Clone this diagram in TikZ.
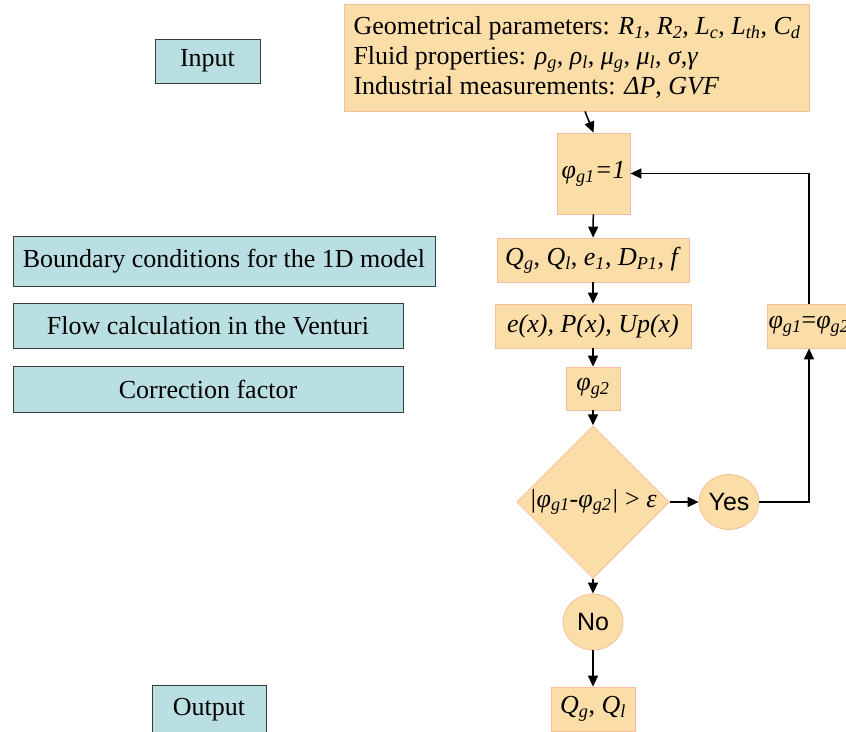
\documentclass[tikz,border=0pt]{standalone}
\usepackage{fontspec}
\setmainfont{Liberation Serif}
\setsansfont{Liberation Sans}
\usetikzlibrary{arrows.meta,shapes.geometric}
\definecolor{stepfill}{RGB}{250,221,167}
\definecolor{stepline}{RGB}{247,190,155}
\definecolor{notefill}{RGB}{186,223,226}
\definecolor{noteline}{RGB}{55,60,62}
% italic symbol with italic index
\newcommand{\vsub}[2]{\textit{#1\textsubscript{#2}}}
\begin{document}
\begin{tikzpicture}[x=1pt,y=-1pt,
    font=\fontsize{26}{30}\selectfont,
    stepbox/.style={rectangle, fill=stepfill, draw=stepline, line width=0.8pt, inner sep=0pt},
    notebox/.style={rectangle, fill=notefill, draw=noteline, line width=0.9pt, inner sep=0pt},
    answer/.style={ellipse, fill=stepfill, draw=stepline, line width=0.8pt, inner sep=0pt,
        minimum width=60, minimum height=55, font=\sffamily\fontsize{25}{30}\selectfont},
    arr/.style={-{Triangle[length=11pt,width=10pt]}, line width=1.5pt}]
  \useasboundingbox (0,0) rectangle (846,731);
  % labels on the left
  \node[notebox, minimum width=105, minimum height=44] (input) at (207.5,61) {Input};
  \node[notebox, minimum width=422, minimum height=50] (bcond) at (224,261) {Boundary conditions for the 1D model};
  \node[notebox, minimum width=390, minimum height=45] (flow) at (208,325.5) {Flow calculation in the Venturi};
  \node[notebox, minimum width=390, minimum height=46] (corr) at (208,389) {Correction factor};
  \node[notebox, minimum width=114, minimum height=50] (output) at (209,710) {Output};
  % steps of the algorithm
  \node[stepbox, minimum width=465, minimum height=107, align=left] (geo) at (577,57.5)
    {Geometrical parameters: \vsub{R}{1}, \vsub{R}{2}, \vsub{L}{c}, \vsub{L}{th}, \vsub{C}{d}\\
     Fluid properties: \vsub{ρ}{g}, \vsub{ρ}{l}, \vsub{μ}{g}, \vsub{μ}{l}, \textit{σ},\textit{γ}\\
     Industrial measurements: \textit{ΔP}, \textit{GVF}};
  \node[stepbox, minimum width=73, minimum height=81] (phi1) at (593.5,173.5) {\vsub{φ}{g1}\textit{=1}};
  \node[stepbox, minimum width=192, minimum height=44] (qbox) at (593,260)
    {\vsub{Q}{g}, \vsub{Q}{l}, \vsub{e}{1}, \vsub{D}{P1}, \textit{f}};
  \node[stepbox, minimum width=196, minimum height=44] (ebox) at (593,326) {\textit{e(x), P(x), Up(x)}};
  \node[stepbox, minimum width=54, minimum height=43] (phi2) at (593,388.5) {\vsub{φ}{g2}};
  \node[diamond, fill=stepfill, draw=stepline, line width=0.8pt, inner sep=0pt,
    minimum width=151, minimum height=150] (test) at (593,502)
    {\textit{|}\vsub{φ}{g1}-\vsub{φ}{g2}\textit{|} \textgreater{} \textit{ε}};
  \node[answer] (yes) at (729,502) {Yes};
  \node[answer, minimum height=56] (no) at (593,622) {No};
  \node[stepbox, minimum width=84, minimum height=44] (out) at (593,709) {\vsub{Q}{g}, \vsub{Q}{l}};
  \node[stepbox, minimum width=84, minimum height=44] (upd) at (809,326) {\vsub{φ}{g1}=\vsub{φ}{g2}};
  % connectors
  \draw[arr] ([xshift=8pt]geo.south) -- (phi1.north);
  \draw[arr] (phi1) -- (qbox);
  \draw[arr] (qbox) -- (ebox);
  \draw[arr] (ebox) -- (phi2);
  \draw[arr] (phi2) -- (test.north);
  \draw[arr] (test.east) -- (yes);
  \draw[arr] (test.south) -- (no);
  \draw[arr] (no) -- (out);
  \draw[arr] (yes) -| (upd);
  \draw[arr] (upd) |- (phi1);
\end{tikzpicture}
\end{document}
